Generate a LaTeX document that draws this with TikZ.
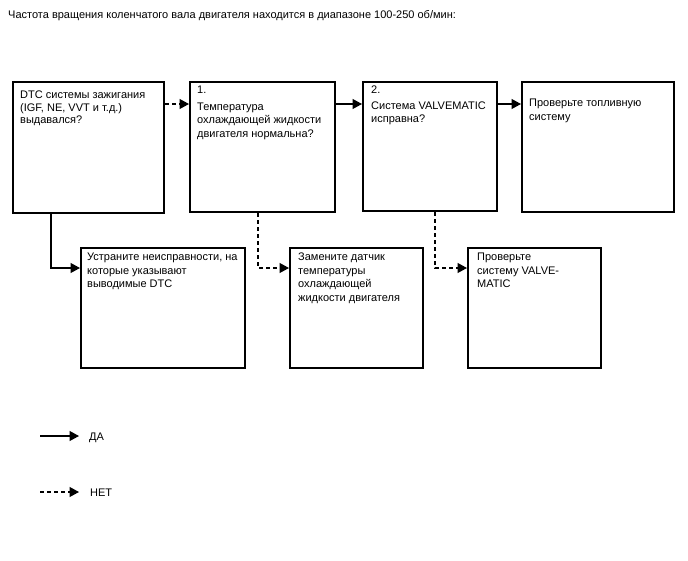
\documentclass[tikz,border=0pt]{standalone}
\usepackage{fontspec}
\setmainfont{Liberation Sans}
\usetikzlibrary{arrows.meta,calc}
\begin{document}
\begin{tikzpicture}[x=1pt,y=-1pt,
  box/.style={draw,line width=2pt,anchor=north west,inner sep=0pt},
  txt/.style={anchor=north west,inner sep=0pt,align=left,font=\fontsize{11}{13.5}\selectfont},
  conn/.style={line width=1.3pt,-{Triangle[length=9.5pt,width=10pt]}},
  yes/.style={conn},
  no/.style={conn,dash pattern=on 4pt off 3pt}]
\useasboundingbox (0,0) rectangle (688,560);
\node[anchor=base west,inner sep=0pt,font=\fontsize{11}{13}\selectfont] (title) at (8,18) {Частота вращения коленчатого вала двигателя находится в диапазоне 100-250 об/мин:};
% boxes
\node[box,minimum width=151pt,minimum height=131pt] (a) at (12,81) {};
\node[box,minimum width=145pt,minimum height=130pt] (b) at (189,81) {};
\node[box,minimum width=134pt,minimum height=129pt] (c) at (362,81) {};
\node[box,minimum width=152pt,minimum height=130pt] (d) at (521,81) {};
\node[box,minimum width=164pt,minimum height=120pt] (e) at (80,247) {};
\node[box,minimum width=133pt,minimum height=120pt] (f) at (289,247) {};
\node[box,minimum width=133pt,minimum height=120pt] (g) at (467,247) {};
% texts
\node[txt,font=\fontsize{11}{12.5}\selectfont] (ta) at (20,91) {DTC системы зажигания\\(IGF, NE, VVT и т.д.)\\выдавался?};
\node[txt] (tb) at (197,86) {1.\\[3pt]Температура\\охлаждающей жидкости\\двигателя нормальна?};
\node[txt] (tc) at (371,86) {2.\\[2pt]Система VALVEMATIC\\исправна?};
\node[txt] (td) at (529,99) {Проверьте топливную\\систему};
\node[txt] (te) at (87,253) {Устраните неисправности, на\\которые указывают\\выводимые DTC};
\node[txt] (tf) at (298,253) {Замените датчик\\температуры\\охлаждающей\\жидкости двигателя};
\node[txt] (tg) at (477,253) {Проверьте\\систему VALVE-\\MATIC};
% horizontal connectors
\coordinate (pab) at ([yshift=-23pt]a.north east);
\draw[no] (pab) -- (pab -| b.west);
\coordinate (pbc) at ([yshift=-23pt]b.north east);
\draw[yes] (pbc) -- (pbc -| c.west);
\coordinate (pcd) at ([yshift=-23pt]c.north east);
\draw[yes] (pcd) -- (pcd -| d.west);
% vertical connectors
\draw[yes] ([xshift=39pt]a.south west) |- ([yshift=-21pt]e.north west);
\draw[no] ([xshift=69pt]b.south west) |- ([yshift=-21pt]f.north west);
\draw[no] ([xshift=73pt]c.south west) |- ([yshift=-21pt]g.north west);
% legend
\coordinate (ly1) at (40,436);
\coordinate (ly2) at (79,436);
\draw[yes] (ly1) -- (ly2);
\node[anchor=base west,inner sep=0pt,font=\fontsize{11}{13}\selectfont] (lyes) at (89,440) {ДА};
\coordinate (ln1) at (40,492);
\coordinate (ln2) at (79,492);
\draw[no] (ln1) -- (ln2);
\node[anchor=base west,inner sep=0pt,font=\fontsize{11}{13}\selectfont] (lno) at (90,496) {НЕТ};
\end{tikzpicture}
\end{document}
